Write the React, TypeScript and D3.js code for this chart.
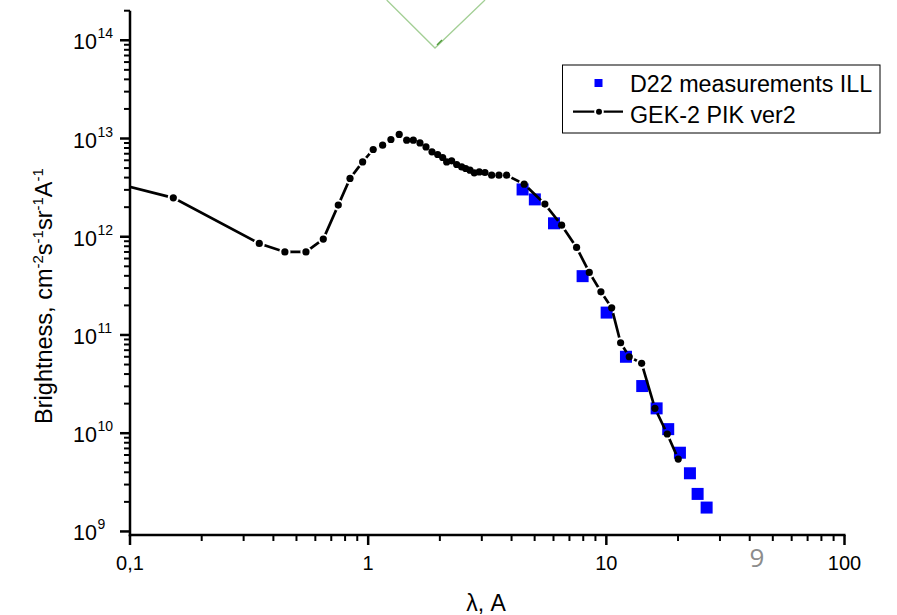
import React from "react";
import * as d3 from "d3";

// GEK-2 PIK ver2 (line with dots)
const lineX = [0.07, 0.152, 0.349, 0.447, 0.548, 0.648, 0.749, 0.839, 0.948, 1.05, 1.15, 1.246, 1.35, 1.451, 1.547, 1.65, 1.749, 1.853, 1.958, 2.055, 2.136, 2.241, 2.353, 2.47, 2.567, 2.676, 2.789, 2.927, 3.093, 3.3, 3.54, 3.814, 4.52, 5.52, 6.49, 7.5, 8.48, 9.49, 10.53, 11.48, 12.48, 14.07, 16.0, 18.02, 20.04];
const lineY = [4.0e12, 2.49e12, 8.55e11, 7.0e11, 7.0e11, 9.46e11, 2.1e12, 3.92e12, 5.78e12, 7.73e12, 8.55e12, 9.77e12, 1.1e13, 9.61e12, 9.61e12, 9.02e12, 8.21e12, 7.31e12, 6.87e12, 6.41e12, 5.78e12, 5.92e12, 5.44e12, 5.14e12, 4.95e12, 4.76e12, 4.47e12, 4.57e12, 4.51e12, 4.23e12, 4.23e12, 4.23e12, 3.43e12, 2.15e12, 1.31e12, 7.78e11, 4.33e11, 2.75e11, 1.89e11, 8.33e10, 6.0e10, 5.14e10, 1.79e10, 9.82e9, 5.46e9];

// D22 measurements ILL (blue squares)
const sqX = [4.45, 5.01, 6.03, 7.95, 10.03, 12.09, 14.15, 16.26, 18.19, 20.37, 22.44, 24.17, 26.37];
const sqY = [3.03e12, 2.4e12, 1.37e12, 3.97e11, 1.69e11, 6.0e10, 3.02e10, 1.79e10, 1.1e10, 6.33e9, 3.91e9, 2.41e9, 1.75e9];

const xTickVals = [0.1, 1, 10, 100];
const xTickLabels = ["0,1", "1", "10", "100"];
const yTickExps = [9, 10, 11, 12, 13, 14];
const legendLabels = ["D22 measurements ILL", "GEK-2 PIK ver2"];

const FONT = "'Liberation Sans', Arial, sans-serif";

export default function App() {
  const W = 897, H = 615;
  const left = 130, right = 844.5, top = 10.7, bottom = 535;
  const x = d3.scaleLog().domain([0.1, 100]).range([left, right]);
  const y = d3.scaleLog().domain([9.2e8, 2e14]).range([bottom, top]);

  const pts = lineX.map((v, i) => [v, lineY[i]] as [number, number]);
  const sq = sqX.map((v, i) => [v, sqY[i]] as [number, number]);
  const linePath = d3.line<[number, number]>().x(d => x(d[0])).y(d => y(d[1]))(pts) || "";

  const xMinor: number[] = [];
  for (let e = -1; e < 2; e++) for (let m = 2; m <= 9; m++) xMinor.push(m * Math.pow(10, e));
  const yMinor: number[] = [];
  for (let e = 9; e <= 14; e++) for (let m = 2; m <= 9; m++) { const v = m * Math.pow(10, e); if (v <= 2.0001e14) yMinor.push(v); }

  const sqSize = 12;
  return (
    <svg width={W} height={H} style={{ position: "absolute", left: 0, top: 0, background: "#fff" }} fontFamily={FONT}>
      <rect x={0} y={0} width={W} height={H} fill="#fff" />
      {/* green V */}
      <polyline points="386.7,0 435,48 485,0" fill="none" stroke="#a3cf95" strokeWidth={1.3} />
      <path d="M437,45 L442,40" stroke="#4f9a3a" strokeWidth={1.5} />
      <defs>
        <clipPath id="plotClip">
          <rect x={left} y={top} width={right - left + 20} height={bottom - top} />
        </clipPath>
        <mask id="gapMask" maskUnits="userSpaceOnUse" x={0} y={0} width={W} height={H}>
          <rect x={0} y={0} width={W} height={H} fill="#fff" />
          {pts.map((d, i) => (
            <circle key={i} cx={x(d[0])} cy={y(d[1])} r={5.6} fill="#000" />
          ))}
        </mask>
        <mask id="legMask" maskUnits="userSpaceOnUse" x={0} y={0} width={W} height={H}>
          <rect x={0} y={0} width={W} height={H} fill="#fff" />
          <circle cx={599} cy={111.7} r={4.8} fill="#000" />
        </mask>
      </defs>
      {/* squares */}
      <g fill="#0000ff">
        {sq.map((d, i) => (
          <rect key={i} x={x(d[0]) - sqSize / 2} y={y(d[1]) - sqSize / 2} width={sqSize} height={sqSize} />
        ))}
      </g>
      {/* line */}
      <g clipPath="url(#plotClip)">
        <path d={linePath} fill="none" stroke="#000" strokeWidth={2.7} mask="url(#gapMask)" />
        {pts.map((d, i) => (
          <circle key={i} cx={x(d[0])} cy={y(d[1])} r={3.6} fill="#000" />
        ))}
      </g>
      {/* axes */}
      <line x1={left} x2={left} y1={top} y2={bottom + 1.2} stroke="#000" strokeWidth={2.5} />
      <line x1={left - 1.2} x2={right + 1} y1={bottom} y2={bottom} stroke="#000" strokeWidth={2.5} />
      {/* x ticks */}
      {xTickVals.map((v, i) => (
        <g key={i}>
          <line x1={x(v)} x2={x(v)} y1={bottom} y2={bottom + 10} stroke="#000" strokeWidth={2.5} />
          <text x={x(v)} y={570} fontSize={20} textAnchor="middle" fill="#000">{xTickLabels[i]}</text>
        </g>
      ))}
      {xMinor.map((v, i) => (
        <line key={i} x1={x(v)} x2={x(v)} y1={bottom} y2={bottom + 6} stroke="#000" strokeWidth={2} />
      ))}
      {/* y ticks */}
      {yTickExps.map((e, i) => {
        const yy = y(Math.pow(10, e));
        return (
          <g key={i}>
            <line x1={left - 10} x2={left} y1={yy} y2={yy} stroke="#000" strokeWidth={2.5} />
            <text x={97} y={yy + 9} fontSize={21.5} textAnchor="end" fill="#000">10</text>
            <text x={97.5} y={yy - 2} fontSize={14} textAnchor="start" fill="#000">{e}</text>
          </g>
        );
      })}
      {yMinor.map((v, i) => (
        <line key={i} x1={left - 6} x2={left} y1={y(v)} y2={y(v)} stroke="#000" strokeWidth={2} />
      ))}
      {/* axis titles */}
      <text x={486} y={611} fontSize={23} textAnchor="middle" fill="#000">λ, A</text>
      <text transform="translate(52,296) rotate(-90)" fontSize={23.5} textAnchor="middle" fill="#000">
        <tspan>Brightness, cm</tspan>
        <tspan fontSize={15} dy={-9}>-2</tspan>
        <tspan dy={9}>s</tspan>
        <tspan fontSize={15} dy={-9}>-1</tspan>
        <tspan dy={9}>sr</tspan>
        <tspan fontSize={15} dy={-9}>-1</tspan>
        <tspan dy={9}>A</tspan>
        <tspan fontSize={15} dy={-9}>-1</tspan>
      </text>
      {/* legend */}
      <rect x={562.5} y={65} width={317.5} height={68} fill="#fff" stroke="#000" strokeWidth={1} />
      <rect x={594.5} y={79} width={8} height={8} fill="#0000ff" />
      <text x={630} y={92} fontSize={23.3} fill="#000">{legendLabels[0]}</text>
      <line x1={573} x2={623} y1={111.7} y2={111.7} stroke="#000" strokeWidth={2.2} mask="url(#legMask)" />
      <circle cx={599} cy={111.7} r={3} fill="#000" />
      <text x={630} y={123} fontSize={23.3} fill="#000">{legendLabels[1]}</text>
      {/* stray label */}
      <text x={757} y={567} fontSize={26} textAnchor="middle" fill="#8c8c8c" fontFamily="'Open Sans', 'Noto Sans', sans-serif">9</text>
    </svg>
  );
}
